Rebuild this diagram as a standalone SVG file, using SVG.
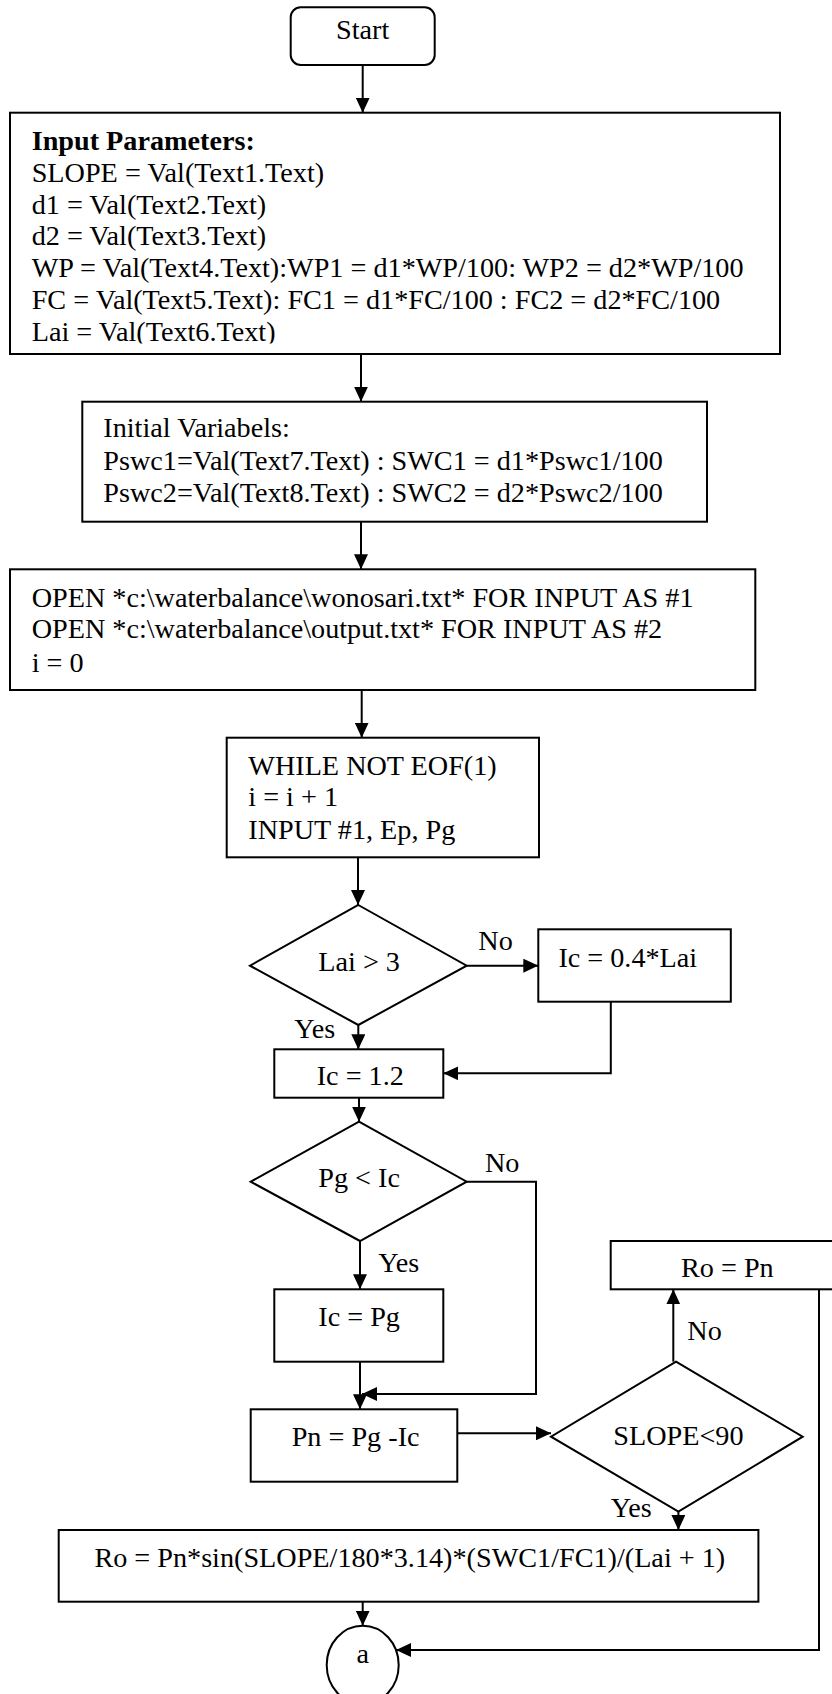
<svg xmlns="http://www.w3.org/2000/svg" width="832" height="1694" viewBox="0 0 832 1694">
<style>
text{font-family:"Liberation Serif","Times New Roman",serif;font-size:28.2px;fill:#000}
.b{font-weight:bold}
.box{fill:#fff;stroke:#000;stroke-width:2}
.c{fill:none;stroke:#000;stroke-width:2}
</style>
<defs>
<marker id="ar" viewBox="0 0 15 14" refX="15" refY="7" markerWidth="15" markerHeight="14" markerUnits="userSpaceOnUse" orient="auto">
<path d="M0,0 L15,7 L0,14 Z" fill="#000"/>
</marker>
<clipPath id="clipIn"><rect x="10" y="113" width="770" height="230.5"/></clipPath>
</defs>
<rect width="832" height="1694" fill="#fff"/>

<g id="connectors">
<path class="c" d="M362.7,65 V112.7" marker-end="url(#ar)"/>
<path class="c" d="M361,354 V401.7" marker-end="url(#ar)"/>
<path class="c" d="M361,521.7 V569.3" marker-end="url(#ar)"/>
<path class="c" d="M361.7,690 V737.7" marker-end="url(#ar)"/>
<path class="c" d="M358,857.3 V905" marker-end="url(#ar)"/>
<path class="c" d="M466.7,965.7 H538.3" marker-end="url(#ar)"/>
<path class="c" d="M358.3,1025 V1049.3" marker-end="url(#ar)"/>
<path class="c" d="M610.8,1001.7 V1073.3 H443.3" marker-end="url(#ar)"/>
<path class="c" d="M359,1097.7 V1121.7" marker-end="url(#ar)"/>
<path class="c" d="M360,1241 V1289.3" marker-end="url(#ar)"/>
<path class="c" d="M466.7,1181.7 H536 V1394 H362" marker-end="url(#ar)"/>
<path class="c" d="M360,1361.7 V1409.3" marker-end="url(#ar)"/>
<path class="c" d="M457.3,1433.3 H551" marker-end="url(#ar)"/>
<path class="c" d="M673.3,1361.7 V1289.3" marker-end="url(#ar)"/>
<path class="c" d="M678.4,1511.7 V1530" marker-end="url(#ar)"/>
<path class="c" d="M362.7,1601.7 V1625.7" marker-end="url(#ar)"/>
<path class="c" d="M819,1289.3 V1650 H396" marker-end="url(#ar)"/>
<text x="478.3" y="950">No</text>
<text x="294.3" y="1038.3">Yes</text>
<text x="485" y="1171.7">No</text>
<text x="378.3" y="1271.7">Yes</text>
<text x="687.3" y="1340">No</text>
<text x="610.7" y="1516.7">Yes</text>
</g>

<g id="start">
<rect class="box" x="290.7" y="7.3" width="144" height="57.7" rx="10" ry="10"/>
<text x="362.7" y="39.3" text-anchor="middle">Start</text>
</g>

<g id="input">
<rect class="box" x="10" y="112.7" width="770" height="241.3"/>
<g clip-path="url(#clipIn)">
<text class="b" x="31.7" y="150">Input Parameters:</text>
<text x="31.7" y="181.75">SLOPE = Val(Text1.Text)</text>
<text x="31.7" y="213.5">d1 = Val(Text2.Text)</text>
<text x="31.7" y="245.25">d2 = Val(Text3.Text)</text>
<text x="31.7" y="277">WP = Val(Text4.Text):WP1 = d1*WP/100: WP2 = d2*WP/100</text>
<text x="31.7" y="308.75">FC = Val(Text5.Text): FC1 = d1*FC/100 : FC2 = d2*FC/100</text>
<text x="31.7" y="340.5">Lai = Val(Text6.Text)</text>
</g>
</g>

<g id="initial">
<rect class="box" x="82.3" y="401.7" width="624.7" height="120"/>
<text x="103.3" y="436.7">Initial Variabels:</text>
<text x="103.3" y="470">Pswc1=Val(Text7.Text) : SWC1 = d1*Pswc1/100</text>
<text x="103.3" y="501.7">Pswc2=Val(Text8.Text) : SWC2 = d2*Pswc2/100</text>
</g>

<g id="open">
<rect class="box" x="10" y="569.3" width="745.3" height="120.7"/>
<text x="31.7" y="606.7">OPEN *c:\waterbalance\wonosari.txt* FOR INPUT AS #1</text>
<text x="31.7" y="638.3">OPEN *c:\waterbalance\output.txt* FOR INPUT AS #2</text>
<text x="31.7" y="671.7">i = 0</text>
</g>

<g id="while">
<rect class="box" x="226.7" y="737.7" width="312.3" height="119.6"/>
<text x="248.3" y="775">WHILE NOT EOF(1)</text>
<text x="248.3" y="806">i = i + 1</text>
<text x="248.3" y="839.3">INPUT #1, Ep, Pg</text>
</g>

<g id="dec-lai">
<polygon class="box" points="358.3,905 466.7,965.7 358.3,1025 250,965.7"/>
<text x="318.3" y="970.7">Lai &gt; 3</text>
</g>

<g id="ic-lai">
<rect class="box" x="538.3" y="929.3" width="192.5" height="72.4"/>
<text x="558.4" y="966.7">Ic = 0.4*Lai</text>
</g>

<g id="ic-12">
<rect class="box" x="274.3" y="1049.3" width="169" height="48.4"/>
<text x="316.7" y="1085">Ic = 1.2</text>
</g>

<g id="dec-pg">
<polygon class="box" points="359,1121.7 466.7,1181.7 360,1241 250.7,1181.7"/>
<text x="318.3" y="1186.7">Pg &lt; Ic</text>
</g>

<g id="ic-pg">
<rect class="box" x="274.3" y="1289.3" width="169" height="72.4"/>
<text x="318.3" y="1326">Ic = Pg</text>
</g>

<g id="pn">
<rect class="box" x="250.7" y="1409.3" width="206.6" height="72.4"/>
<text x="291.7" y="1446">Pn = Pg -Ic</text>
</g>

<g id="dec-slope">
<polygon class="box" points="676,1361.7 802.7,1436.7 678.4,1511.7 551,1436.7"/>
<text x="613.3" y="1445">SLOPE&lt;90</text>
</g>

<g id="ro-pn">
<rect class="box" x="610.7" y="1241" width="230" height="48.3"/>
<text x="681" y="1277.3">Ro = Pn</text>
</g>

<g id="ro-formula">
<rect class="box" x="58.7" y="1530" width="699.7" height="71.7"/>
<text x="94.4" y="1566.7">Ro = Pn*sin(SLOPE/180*3.14)*(SWC1/FC1)/(Lai + 1)</text>
</g>

<g id="connector-a">
<ellipse class="box" cx="362.7" cy="1665" rx="36" ry="39.3"/>
<text x="362.7" y="1663.3" text-anchor="middle">a</text>
</g>
</svg>
